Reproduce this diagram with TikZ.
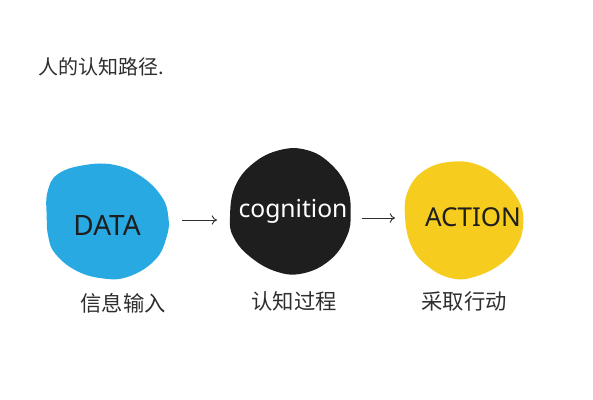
\documentclass[tikz,border=0pt]{standalone}
\usepackage{fontspec}
\setmainfont{Noto Sans}
\newfontfamily\cjk{Noto Sans CJK SC}
\usetikzlibrary{arrows.meta}
\definecolor{blobblue}{HTML}{29A9E1}
\definecolor{blobblack}{HTML}{1E1E1E}
\definecolor{blobyellow}{HTML}{F6CD1F}
\definecolor{inkgray}{HTML}{2E2E2E}
\tikzset{
  cnlabel/.style={text=inkgray, font=\cjk\fontsize{16}{16}\selectfont, inner sep=0pt},
  entext/.style={font=\fontsize{21}{21}\selectfont, inner sep=0pt},
  flow/.style={draw=inkgray, line width=0.7pt, -{To[length=4pt,width=7pt]}}
}
\begin{document}
\begin{tikzpicture}[x=0.75pt,y=-0.75pt]
\useasboundingbox (0,0) rectangle (593,400);
% blobs
\fill[blobblue] plot[smooth cycle, tension=0.7] coordinates {(46.7,216.7) (47.5,192) (58,174) (85,165) (115,165) (141.7,176.7) (161.7,196.7) (168.3,216.7) (166.7,236.7) (155,260) (128.3,276.7) (101.7,278.3) (75,270) (55,253.3) (48.3,236.7)};
\fill[blobblack] plot[smooth cycle, tension=0.7] coordinates {(230,216.7) (235,186.7) (253.3,163.3) (280,150) (306.7,150) (330,163.3) (346.7,186.7) (350.7,213.3) (346.7,236.7) (330,260) (303.3,273.3) (276.7,271.7) (250,256.7) (233.3,236.7)};
\fill[blobyellow] plot[smooth cycle, tension=0.7] coordinates {(405,216.7) (408.3,190) (425,170) (451.7,161.7) (478.3,165) (501.7,180) (518.3,200) (523.3,220) (518.3,243.3) (501.7,263.3) (475,276.7) (451.7,278.3) (428.3,266.7) (411.7,246.7)};
% texts
\node[cnlabel, anchor=west, font=\cjk\fontsize{15}{15}\selectfont] (title) at (38,67) {人的认知路径.};
\node[entext, text=blobblack] (data) at (107,225) {DATA};
\node[entext, text=white, font=\fontsize{18.5}{18.5}\selectfont] (cog) at (293,211) {cognition};
\node[entext, text=blobblack, font=\fontsize{19.5}{19.5}\selectfont] (action) at (473,217) {ACTION};
\node[cnlabel] (l1) at (123,303) {信息输入};
\node[cnlabel] (l2) at (294,301) {认知过程};
\node[cnlabel] (l3) at (464,301) {采取行动};
% connectors
\coordinate (a1s) at (182,220);
\coordinate (a1e) at (217,220);
\coordinate (a2s) at (362,218);
\coordinate (a2e) at (395,218);
\draw[flow] (a1s) -- (a1e);
\draw[flow] (a2s) -- (a2e);
\end{tikzpicture}
\end{document}
